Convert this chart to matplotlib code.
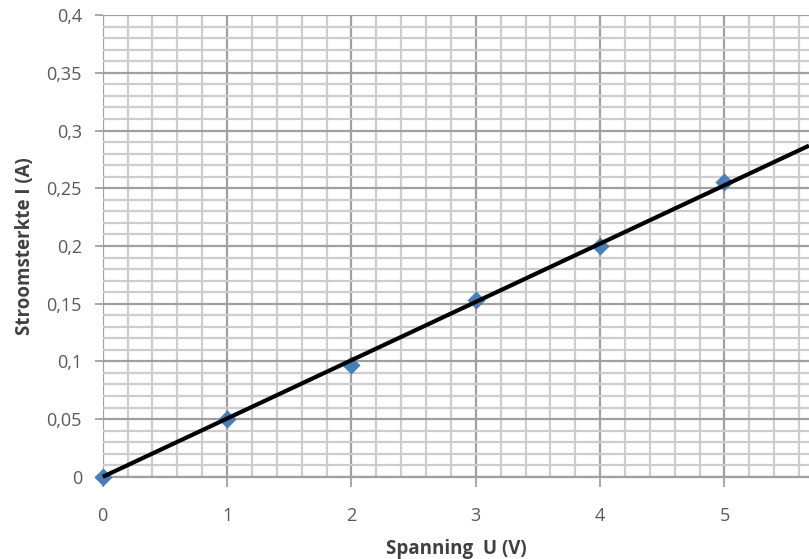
"""Stroomsterkte tegen spanning, met trendlijn door de oorsprong."""
import matplotlib.pyplot as plt
import numpy as np
from matplotlib.ticker import FuncFormatter, MultipleLocator

spanning = np.array([0, 1, 2, 3, 4, 5])
stroom = np.array([0.0, 0.05, 0.097, 0.153, 0.200, 0.255])
x_max = 5.68

plt.rcParams["font.family"] = ["Open Sans", "DejaVu Sans"]

fig = plt.figure(figsize=(8.09, 5.59), dpi=100)
ax = fig.add_axes([0.127, 0.147, 1.0 - 0.127, 0.826])

# trendlijn door de oorsprong (kleinste kwadraten)
a = np.sum(spanning * stroom) / np.sum(spanning ** 2)
xs = np.array([0, x_max])

ax.scatter(spanning, stroom, marker="D", s=85, color="#4a7ebb", zorder=3,
           clip_on=False, linewidths=0)
ax.plot(xs, a * xs, color="black", linewidth=3, zorder=4, clip_on=False,
        solid_capstyle="butt")

ax.set_xlim(0, x_max)
ax.set_ylim(0, 0.4)
ax.xaxis.set_major_locator(MultipleLocator(1))
ax.xaxis.set_minor_locator(MultipleLocator(0.2))
ax.yaxis.set_major_locator(MultipleLocator(0.05))
ax.yaxis.set_minor_locator(MultipleLocator(0.01))
ax.yaxis.set_major_formatter(
    FuncFormatter(lambda v, _: f"{v:g}".replace(".", ",")))

ax.grid(True, which="minor", color="#cdcdcd", linewidth=1.6)
ax.grid(True, which="major", color="#a0a0a0", linewidth=1.6)
ax.set_axisbelow(True)

for s in ["top", "right", "left"]:
    ax.spines[s].set_visible(False)
ax.spines["bottom"].set_color("#a0a0a0")
ax.spines["bottom"].set_linewidth(1.6)

ax.tick_params(which="minor", length=0)
ax.tick_params(axis="y", which="major", length=6, width=1.3, color="#a0a0a0",
               labelsize=13, labelcolor="#595959", pad=9)
ax.tick_params(axis="x", which="major", length=7, width=1.3, color="#a0a0a0",
               labelsize=13, labelcolor="#595959", pad=15)

ax.set_xlabel("Spanning  U (V)", fontsize=13.5, fontweight="bold",
              color="#404040", labelpad=10)
ax.set_ylabel("Stroomsterkte I (A)", fontsize=13.5, fontweight="bold",
              color="#404040", labelpad=8)

fig.savefig("out.png", dpi=100)
